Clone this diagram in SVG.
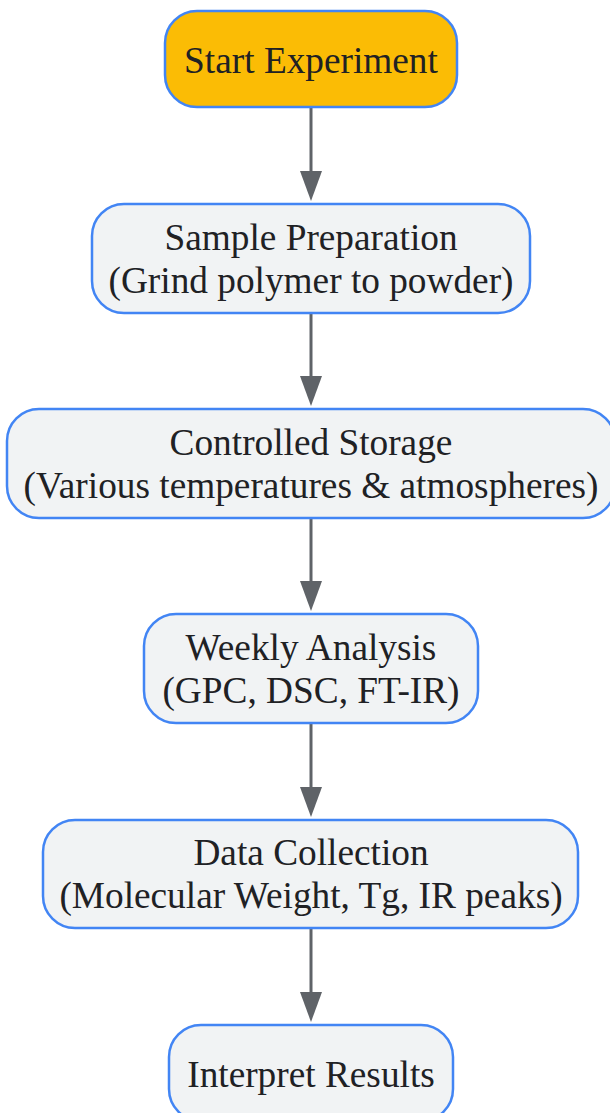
<svg xmlns="http://www.w3.org/2000/svg" width="610" height="1113" viewBox="0 0 610 1113">
<defs>
<style>
.n rect{fill:#f1f3f4;stroke:#4285f4;stroke-width:2.5}
.n.s rect{fill:#fbbc05}
.n text{font-family:"Liberation Serif","Times New Roman",serif;font-size:37.3px;fill:#202124;text-anchor:middle}
.e line{stroke:#5f6368;stroke-width:3}
.e path{fill:#5f6368}
</style>
</defs>
<rect width="610" height="1113" fill="#ffffff"/>
<g id="connectors" class="e">
<line x1="311" y1="107" x2="311" y2="172"/>
<path d="M300,171 L322,171 L311,201 Z"/>
<line x1="311" y1="313" x2="311" y2="377"/>
<path d="M300,376 L322,376 L311,406 Z"/>
<line x1="311" y1="518" x2="311" y2="582"/>
<path d="M300,581 L322,581 L311,611 Z"/>
<line x1="311" y1="723" x2="311" y2="788"/>
<path d="M300,787 L322,787 L311,817 Z"/>
<line x1="311" y1="928" x2="311" y2="993"/>
<path d="M300,992 L322,992 L311,1022 Z"/>
</g>
<g id="start" class="n s">
<rect x="165" y="11" width="292" height="96" rx="32"/>
<text x="311" y="73">Start Experiment</text>
</g>
<g id="prep" class="n">
<rect x="92" y="204" width="438" height="109" rx="32"/>
<text x="311" y="250">Sample Preparation</text>
<text x="311" y="293">(Grind polymer to powder)</text>
</g>
<g id="storage" class="n">
<rect x="7" y="409" width="608" height="109" rx="32"/>
<text x="311" y="455">Controlled Storage</text>
<text x="311" y="498">(Various temperatures &amp; atmospheres)</text>
</g>
<g id="weekly" class="n">
<rect x="144" y="614" width="334" height="109" rx="32"/>
<text x="311" y="660">Weekly Analysis</text>
<text x="311" y="703">(GPC, DSC, FT-IR)</text>
</g>
<g id="data" class="n">
<rect x="43" y="820" width="535" height="108" rx="32"/>
<text x="311" y="865">Data Collection</text>
<text x="311" y="908">(Molecular Weight, Tg, IR peaks)</text>
</g>
<g id="interpret" class="n">
<rect x="169" y="1025" width="284" height="96" rx="32"/>
<text x="311" y="1087">Interpret Results</text>
</g>
</svg>
